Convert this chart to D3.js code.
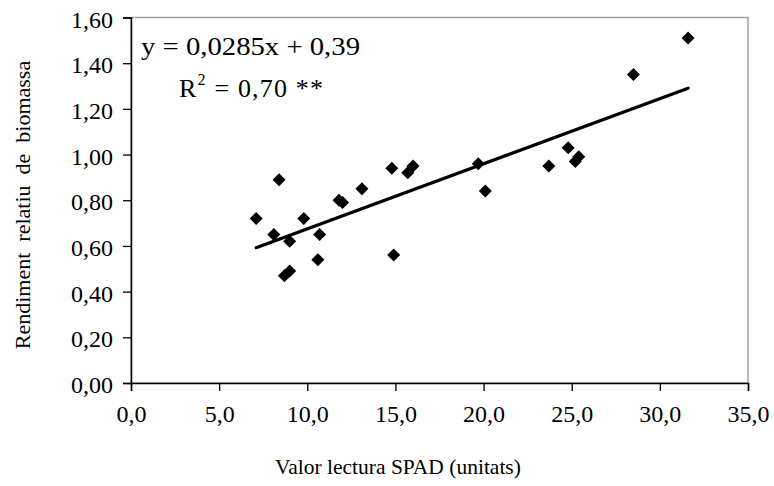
<!DOCTYPE html>
<html><head><meta charset="utf-8">
<script src="https://cdn.jsdelivr.net/npm/d3@7"></script>
<style>body{margin:0;background:#fff}svg{display:block}svg text{font-family:"Liberation Serif","Times New Roman","DejaVu Serif",serif !important;}</style>
</head><body>
<svg id="c" width="774" height="486"></svg>
<script>
const spadValues = [7.1, 8.1, 8.4, 8.7, 9.0, 9.0, 9.8, 10.6, 10.7, 11.8, 12.0, 13.1, 14.8, 14.9, 15.7, 16.0, 19.7, 20.1, 23.7, 24.8, 25.2, 25.4, 28.5, 31.6];
const biomassValues = [0.72, 0.65, 0.89, 0.47, 0.49, 0.62, 0.72, 0.54, 0.65, 0.80, 0.79, 0.85, 0.94, 0.56, 0.92, 0.95, 0.96, 0.84, 0.95, 1.03, 0.97, 0.99, 1.35, 1.51];
const xTicks = [0, 5, 10, 15, 20, 25, 30, 35];
const yTicks = [0, 0.2, 0.4, 0.6, 0.8, 1.0, 1.2, 1.4, 1.6];
const slope = 0.0285, intercept = 0.39;
const trendRange = [7.1, 31.6];
const eqText = "y = 0,0285x + 0,39";
const xTitle = "Valor lectura SPAD (unitats)";
const yTitle = "Rendiment  relatiu  de  biomassa";

const svg = d3.select("#c");
const L = 131, R = 748, T = 17.5, B = 383;
const x = d3.scaleLinear().domain([0, 35]).range([L, R]);
const y = d3.scaleLinear().domain([0, 1.6]).range([B, T]);
const fmt = d => d.toFixed(1).replace(".", ",");
const fmtY = d => d.toFixed(2).replace(".", ",");

svg.append("rect").attr("x", L).attr("y", T).attr("width", R - L).attr("height", B - T)
  .attr("fill", "none").attr("stroke", "#a0a0a0").attr("stroke-width", 1.5);

const gx = svg.append("g").attr("transform", `translate(0,${B})`)
  .call(d3.axisBottom(x).tickValues(xTicks).tickFormat(fmt).tickSizeOuter(0).tickSize(8).tickPadding(14));
const gy = svg.append("g").attr("transform", `translate(${L},0)`)
  .call(d3.axisLeft(y).tickValues(yTicks).tickFormat(fmtY).tickSizeOuter(0).tickSize(8).tickPadding(10));
[gx, gy].forEach(g => {
  g.attr("font-family", null).attr("font-size", null);
  g.select(".domain").attr("stroke", "#000").attr("stroke-width", 1.5);
  g.selectAll(".tick line").attr("stroke", "#000").attr("stroke-width", 1.3);
  g.selectAll("text").attr("font-size", 24).attr("fill", "#000");
});
gy.selectAll("text").attr("dy", "0.4em");

svg.append("line")
  .attr("x1", x(trendRange[0])).attr("y1", y(slope * trendRange[0] + intercept))
  .attr("x2", x(trendRange[1])).attr("y2", y(slope * trendRange[1] + intercept))
  .attr("stroke", "#000").attr("stroke-width", 3.2).attr("stroke-linecap", "round");

const data = spadValues.map((v, i) => ({x: v, y: biomassValues[i]}));
const s = 6.5;
svg.append("g").selectAll("path").data(data).join("path")
  .attr("d", d => `M${x(d.x)},${y(d.y) - s}L${x(d.x) + s},${y(d.y)}L${x(d.x)},${y(d.y) + s}L${x(d.x) - s},${y(d.y)}Z`)
  .attr("fill", "#000");

svg.append("text").attr("x", 141).attr("y", 55).attr("font-size", 26)
  .attr("textLength", 219).attr("lengthAdjust", "spacingAndGlyphs").text(eqText);
const r2 = svg.append("text").attr("x", 179).attr("y", 97).attr("font-size", 26)
  .attr("textLength", 144).attr("lengthAdjust", "spacing");
r2.append("tspan").text("R");
r2.append("tspan").attr("font-size", 16).attr("dy", -12).text("2");
r2.append("tspan").attr("dy", 12).text(" = 0,70 **");

svg.append("text").attr("x", 398).attr("y", 474).attr("text-anchor", "middle")
  .attr("font-size", 21.5).text(xTitle);
svg.append("text").attr("transform", `translate(30,205) rotate(-90)`)
  .attr("text-anchor", "middle").attr("font-size", 22)
  .style("white-space", "pre").text(yTitle);
</script>
</body></html>
